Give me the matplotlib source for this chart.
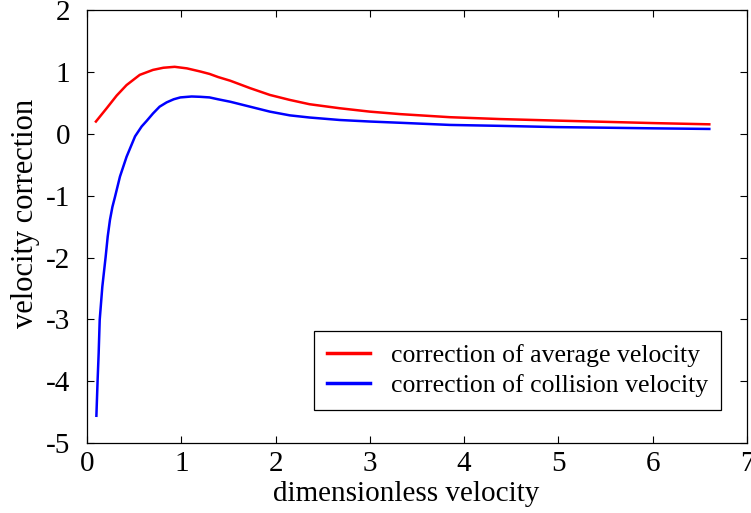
import numpy as np
import matplotlib.pyplot as plt

# points
avg_x = [0.095, 0.209, 0.315, 0.42, 0.56, 0.70, 0.81, 0.93, 1.06, 1.20, 1.30, 1.39,
         1.52, 1.73, 1.94, 2.15, 2.36, 2.68, 3.0, 3.32, 3.85, 4.38, 4.98, 5.5,
         6.0, 6.6]
avg_y = [0.20, 0.415, 0.62, 0.79, 0.955, 1.035, 1.07, 1.085, 1.06, 1.01, 0.97, 0.92,
         0.86, 0.74, 0.63, 0.55, 0.48, 0.415, 0.36, 0.32, 0.27, 0.24, 0.215, 0.195,
         0.175, 0.155]

col_x = [0.1, 0.113, 0.124, 0.135, 0.163, 0.198, 0.22, 0.244, 0.27, 0.297, 0.35,
         0.42, 0.51, 0.58, 0.633, 0.70, 0.77, 0.845, 0.92, 0.99, 1.11, 1.20, 1.30,
         1.39, 1.52, 1.73, 1.94, 2.15, 2.36, 2.68, 3.0, 3.32, 3.85, 4.38, 4.98,
         5.5, 6.0, 6.6]
col_y = [-4.56, -3.98, -3.55, -3.01, -2.47, -1.99, -1.66, -1.39, -1.18, -1.02, -0.69,
         -0.37, -0.04, 0.12, 0.21, 0.33, 0.44, 0.51, 0.56, 0.59, 0.605, 0.60, 0.59,
         0.56, 0.52, 0.44, 0.36, 0.30, 0.265, 0.225, 0.20, 0.18, 0.145, 0.13, 0.11,
         0.10, 0.09, 0.08]

plt.rcParams['font.family'] = ['Liberation Serif', 'DejaVu Serif']
plt.rcParams['axes.unicode_minus'] = False

fig = plt.figure(figsize=(7.51, 5.13), dpi=100)
ax = fig.add_axes([0.1158, 0.1365, 0.8789, 0.8435])

ax.plot(avg_x, avg_y, color='r', lw=1.8, label='correction of average velocity')
ax.plot(col_x, col_y, color='b', lw=1.8, label='correction of collision velocity')

ax.set_xlim(0, 7)
ax.set_ylim(-5, 2)
ax.set_xticks(range(0, 8))
ax.set_yticks(range(-5, 3))
ax.tick_params(direction='in', top=True, right=True, length=5, width=0.8,
               labelsize=21)
ax.tick_params(axis='x', pad=6)
ax.tick_params(axis='y', pad=12)
for s in ax.spines.values():
    s.set_linewidth(0.9)

ax.set_xlabel('dimensionless velocity', fontsize=21, labelpad=3)
ax.set_ylabel('velocity correction', fontsize=22, labelpad=4)
ax.xaxis.label.set_x(0.484)
ax.yaxis.label.set_y(0.53)

leg = ax.legend(loc='lower right', bbox_to_anchor=(0.961, 0.076), borderaxespad=0,
                fontsize=18.5, fancybox=False, edgecolor='k', framealpha=1,
                handlelength=1.67, handletextpad=0.82, borderpad=0.5,
                labelspacing=0.28)
leg.get_frame().set_linewidth(0.9)
for line in leg.get_lines():
    line.set_linewidth(2.5)

fig.savefig('out.png', dpi=100)
